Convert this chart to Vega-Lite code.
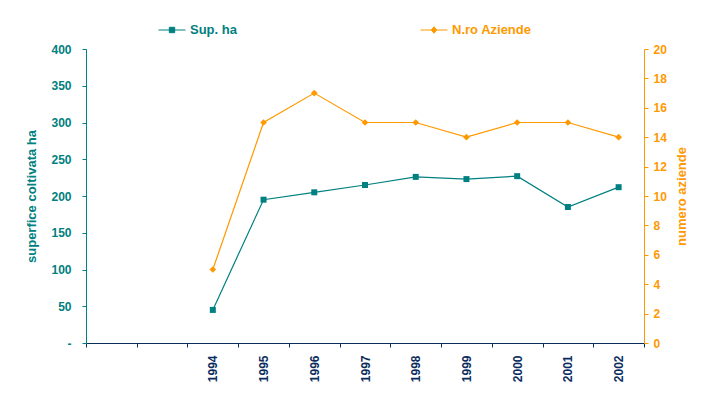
{
  "$schema": "https://vega.github.io/schema/vega-lite/v6.json",
  "width": 558,
  "height": 294,
  "autosize": {"type": "none"},
  "padding": {"left": 86, "top": 49, "right": 71, "bottom": 55},
  "background": "white",
  "config": {
    "view": {"stroke": null},
    "font": "Liberation Sans",
    "axis": {
      "grid": false,
      "labelFont": "Liberation Sans",
      "labelFontWeight": "bold",
      "labelFontSize": 12,
      "titleFont": "Liberation Sans",
      "titleFontWeight": "bold",
      "titleFontSize": 13,
      "domainWidth": 1,
      "tickWidth": 1
    }
  },
  "data": {
    "values": [
      {"anno": "1994", "serie": "Sup. ha", "valore": 45},
      {"anno": "1995", "serie": "Sup. ha", "valore": 195},
      {"anno": "1996", "serie": "Sup. ha", "valore": 205},
      {"anno": "1997", "serie": "Sup. ha", "valore": 215},
      {"anno": "1998", "serie": "Sup. ha", "valore": 226},
      {"anno": "1999", "serie": "Sup. ha", "valore": 223},
      {"anno": "2000", "serie": "Sup. ha", "valore": 227},
      {"anno": "2001", "serie": "Sup. ha", "valore": 185},
      {"anno": "2002", "serie": "Sup. ha", "valore": 212},
      {"anno": "1994", "serie": "N.ro Aziende", "valore": 5},
      {"anno": "1995", "serie": "N.ro Aziende", "valore": 15},
      {"anno": "1996", "serie": "N.ro Aziende", "valore": 17},
      {"anno": "1997", "serie": "N.ro Aziende", "valore": 15},
      {"anno": "1998", "serie": "N.ro Aziende", "valore": 15},
      {"anno": "1999", "serie": "N.ro Aziende", "valore": 14},
      {"anno": "2000", "serie": "N.ro Aziende", "valore": 15},
      {"anno": "2001", "serie": "N.ro Aziende", "valore": 15},
      {"anno": "2002", "serie": "N.ro Aziende", "valore": 14}
    ]
  },
  "encoding": {
    "x": {
      "field": "anno",
      "type": "nominal",
      "sort": null,
      "scale": {
        "domain": ["_1", "_2", "1994", "1995", "1996", "1997", "1998", "1999", "2000", "2001", "2002"],
        "paddingInner": 0,
        "paddingOuter": 0
      },
      "axis": {
        "title": null,
        "labelAngle": -90,
        "labelAlign": "right",
        "labelBaseline": "middle",
        "labelExpr": "indexof(datum.label, '_') === 0 ? '' : datum.label",
        "tickBand": "extent",
        "domainColor": "#0b2d5e",
        "tickColor": "#0b2d5e",
        "labelColor": "#0b2d5e",
        "tickSize": 4,
        "labelPadding": 8
      }
    }
  },
  "layer": [
    {
      "transform": [{"filter": "datum.serie === 'Sup. ha'"}],
      "encoding": {
        "y": {
          "field": "valore",
          "type": "quantitative",
          "scale": {"domain": [0, 400], "nice": false, "zero": true},
          "axis": {
            "orient": "left",
            "values": [0, 50, 100, 150, 200, 250, 300, 350, 400],
            "labelExpr": "datum.value === 0 ? '-' : datum.label",
            "title": "superfice coltivata ha",
            "titleColor": "#008080",
            "labelColor": "#008080",
            "domainColor": "#008080",
            "tickColor": "#008080",
            "tickSize": 4,
            "labelPadding": 11,
            "titlePadding": 12
          }
        },
        "color": {
          "field": "serie",
          "type": "nominal",
          "scale": {"domain": ["Sup. ha", "N.ro Aziende"], "range": ["#008080", "#FF9900"]},
          "legend": {
            "orient": "none",
            "legendX": 72,
            "legendY": -33,
            "direction": "horizontal",
            "title": null,
            "symbolSize": 729,
            "labelFont": "Liberation Sans",
            "labelFontSize": 13,
            "labelFontWeight": "bold",
            "labelOffset": 4,
            "columnPadding": 181,
            "encode": {
              "symbols": {
                "update": {
                  "shape": {"signal": "datum.value === 'Sup. ha' ? 'M-1,0H1M-0.2,-0.2H0.2V0.2H-0.2Z' : 'M-1,0H1M0,-0.24L0.2,0L0,0.24L-0.2,0Z'"},
                  "fill": {"scale": "color", "field": "value"},
                  "stroke": {"scale": "color", "field": "value"},
                  "strokeWidth": {"value": 1},
                  "opacity": {"value": 1}
                }
              },
              "labels": {
                "update": {
                  "fill": {"scale": "color", "field": "value"}
                }
              }
            }
          }
        }
      },
      "layer": [
        {"mark": {"type": "line", "strokeWidth": 1.2}},
        {"mark": {"type": "point", "shape": "square", "filled": true, "opacity": 1, "size": 36}}
      ]
    },
    {
      "transform": [{"filter": "datum.serie === 'N.ro Aziende'"}],
      "encoding": {
        "y": {
          "field": "valore",
          "type": "quantitative",
          "scale": {"domain": [0, 20], "nice": false, "zero": true},
          "axis": {
            "orient": "right",
            "values": [0, 2, 4, 6, 8, 10, 12, 14, 16, 18, 20],
            "title": "numero aziende",
            "titleAngle": 270,
            "titleBaseline": "top",
            "titleColor": "#FF9900",
            "labelColor": "#FF9900",
            "domainColor": "#FF9900",
            "tickColor": "#FF9900",
            "tickSize": 4,
            "labelPadding": 5,
            "titlePadding": 9
          }
        },
        "color": {
          "field": "serie",
          "type": "nominal",
          "scale": {"domain": ["Sup. ha", "N.ro Aziende"], "range": ["#008080", "#FF9900"]},
          "legend": {
            "orient": "none",
            "legendX": 72,
            "legendY": -33,
            "direction": "horizontal",
            "title": null,
            "symbolSize": 729,
            "labelFont": "Liberation Sans",
            "labelFontSize": 13,
            "labelFontWeight": "bold",
            "labelOffset": 4,
            "columnPadding": 181,
            "encode": {
              "symbols": {
                "update": {
                  "shape": {"signal": "datum.value === 'Sup. ha' ? 'M-1,0H1M-0.2,-0.2H0.2V0.2H-0.2Z' : 'M-1,0H1M0,-0.24L0.2,0L0,0.24L-0.2,0Z'"},
                  "fill": {"scale": "color", "field": "value"},
                  "stroke": {"scale": "color", "field": "value"},
                  "strokeWidth": {"value": 1},
                  "opacity": {"value": 1}
                }
              },
              "labels": {
                "update": {
                  "fill": {"scale": "color", "field": "value"}
                }
              }
            }
          }
        }
      },
      "layer": [
        {"mark": {"type": "line", "strokeWidth": 1.2}},
        {"mark": {"type": "point", "shape": "diamond", "filled": true, "opacity": 1, "size": 45}}
      ]
    }
  ],
  "resolve": {"scale": {"y": "independent"}}
}
